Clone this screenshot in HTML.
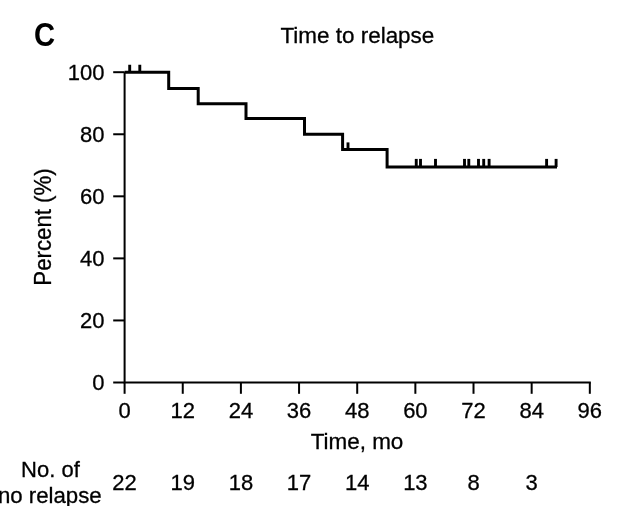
<!DOCTYPE html>
<html><head><meta charset="utf-8"><style>
html,body{margin:0;padding:0;background:#fff;}
svg{display:block;will-change:transform;}
text{font-family:"Liberation Sans",Arial,Helvetica,sans-serif;fill:#000;stroke:#000;stroke-width:0.3px;}
</style></head><body>
<svg width="631" height="506" viewBox="0 0 631 506">
<path d="M124.6,72.19999999999999 V382.5 H590.816" fill="none" stroke="#000" stroke-width="2" stroke-linejoin="miter"/>
<line x1="113.2" y1="382.50" x2="124.60" y2="382.50" stroke="#000" stroke-width="2"/>
<line x1="113.2" y1="320.44" x2="124.60" y2="320.44" stroke="#000" stroke-width="2"/>
<line x1="113.2" y1="258.38" x2="124.60" y2="258.38" stroke="#000" stroke-width="2"/>
<line x1="113.2" y1="196.32" x2="124.60" y2="196.32" stroke="#000" stroke-width="2"/>
<line x1="113.2" y1="134.26" x2="124.60" y2="134.26" stroke="#000" stroke-width="2"/>
<line x1="113.2" y1="72.20" x2="124.60" y2="72.20" stroke="#000" stroke-width="2"/>
<line x1="124.60" y1="382.50" x2="124.60" y2="393.8" stroke="#000" stroke-width="2"/>
<line x1="182.75" y1="382.50" x2="182.75" y2="393.8" stroke="#000" stroke-width="2"/>
<line x1="240.90" y1="382.50" x2="240.90" y2="393.8" stroke="#000" stroke-width="2"/>
<line x1="299.06" y1="382.50" x2="299.06" y2="393.8" stroke="#000" stroke-width="2"/>
<line x1="357.21" y1="382.50" x2="357.21" y2="393.8" stroke="#000" stroke-width="2"/>
<line x1="415.36" y1="382.50" x2="415.36" y2="393.8" stroke="#000" stroke-width="2"/>
<line x1="473.51" y1="382.50" x2="473.51" y2="393.8" stroke="#000" stroke-width="2"/>
<line x1="531.66" y1="382.50" x2="531.66" y2="393.8" stroke="#000" stroke-width="2"/>
<line x1="589.82" y1="382.50" x2="589.82" y2="393.8" stroke="#000" stroke-width="2"/>
<path d="M124.60,72.25 H168.7 V88.4 H198.2 V103.7 H246.0 V118.4 H304.5 V134.2 H342.6 V149.6 H387.1 V167.0 H557.0" fill="none" stroke="#000" stroke-width="3" stroke-linejoin="miter" stroke-linecap="butt"/>
<line x1="129.7" y1="64.75" x2="129.7" y2="72.25" stroke="#000" stroke-width="2.9"/>
<line x1="139.8" y1="64.75" x2="139.8" y2="72.25" stroke="#000" stroke-width="2.9"/>
<line x1="348.0" y1="142.4" x2="348.0" y2="149.6" stroke="#000" stroke-width="2.9"/>
<line x1="416.25" y1="158.9" x2="416.25" y2="167.0" stroke="#000" stroke-width="2.9"/>
<line x1="420.5" y1="158.9" x2="420.5" y2="167.0" stroke="#000" stroke-width="2.9"/>
<line x1="435.5" y1="158.9" x2="435.5" y2="167.0" stroke="#000" stroke-width="2.9"/>
<line x1="464.5" y1="158.9" x2="464.5" y2="167.0" stroke="#000" stroke-width="2.9"/>
<line x1="468.8" y1="158.9" x2="468.8" y2="167.0" stroke="#000" stroke-width="2.9"/>
<line x1="478.5" y1="158.9" x2="478.5" y2="167.0" stroke="#000" stroke-width="2.9"/>
<line x1="483.7" y1="158.9" x2="483.7" y2="167.0" stroke="#000" stroke-width="2.9"/>
<line x1="489.1" y1="158.9" x2="489.1" y2="167.0" stroke="#000" stroke-width="2.9"/>
<line x1="546.6" y1="158.9" x2="546.6" y2="167.0" stroke="#000" stroke-width="2.9"/>
<line x1="556.1" y1="158.9" x2="556.1" y2="167.0" stroke="#000" stroke-width="2.9"/>
<text transform="translate(104.50,389.80) scale(1.0,1)" text-anchor="end" font-size="22">0</text>
<text transform="translate(104.50,327.74) scale(1.0,1)" text-anchor="end" font-size="22">20</text>
<text transform="translate(104.50,265.68) scale(1.0,1)" text-anchor="end" font-size="22">40</text>
<text transform="translate(104.50,203.62) scale(1.0,1)" text-anchor="end" font-size="22">60</text>
<text transform="translate(104.50,141.56) scale(1.0,1)" text-anchor="end" font-size="22">80</text>
<text transform="translate(104.50,79.50) scale(1.0,1)" text-anchor="end" font-size="22">100</text>
<text transform="translate(124.60,417.60) scale(1.0,1)" text-anchor="middle" font-size="22">0</text>
<text transform="translate(182.75,417.60) scale(1.0,1)" text-anchor="middle" font-size="22">12</text>
<text transform="translate(240.90,417.60) scale(1.0,1)" text-anchor="middle" font-size="22">24</text>
<text transform="translate(299.06,417.60) scale(1.0,1)" text-anchor="middle" font-size="22">36</text>
<text transform="translate(357.21,417.60) scale(1.0,1)" text-anchor="middle" font-size="22">48</text>
<text transform="translate(415.36,417.60) scale(1.0,1)" text-anchor="middle" font-size="22">60</text>
<text transform="translate(473.51,417.60) scale(1.0,1)" text-anchor="middle" font-size="22">72</text>
<text transform="translate(531.66,417.60) scale(1.0,1)" text-anchor="middle" font-size="22">84</text>
<text transform="translate(589.82,417.60) scale(1.0,1)" text-anchor="middle" font-size="22">96</text>
<text transform="translate(124.60,489.60) scale(1.0,1)" text-anchor="middle" font-size="22">22</text>
<text transform="translate(182.75,489.60) scale(1.0,1)" text-anchor="middle" font-size="22">19</text>
<text transform="translate(240.90,489.60) scale(1.0,1)" text-anchor="middle" font-size="22">18</text>
<text transform="translate(299.06,489.60) scale(1.0,1)" text-anchor="middle" font-size="22">17</text>
<text transform="translate(357.21,489.60) scale(1.0,1)" text-anchor="middle" font-size="22">14</text>
<text transform="translate(415.36,489.60) scale(1.0,1)" text-anchor="middle" font-size="22">13</text>
<text transform="translate(473.51,489.60) scale(1.0,1)" text-anchor="middle" font-size="22">8</text>
<text transform="translate(531.66,489.60) scale(1.0,1)" text-anchor="middle" font-size="22">3</text>
<text transform="translate(357.40,42.90) scale(1.02,1)" text-anchor="middle" font-size="22">Time to relapse</text>
<text transform="translate(357.00,448.70) scale(1.02,1)" text-anchor="middle" font-size="22">Time, mo</text>
<text transform="translate(50.40,476.70) scale(1.0,1)" text-anchor="middle" font-size="22">No. of</text>
<text transform="translate(49.80,503.00) scale(1.01,1)" text-anchor="middle" font-size="22">no relapse</text>
<text transform="translate(51.3,227.0) rotate(-90) scale(0.967,1)" text-anchor="middle" font-size="23">Percent (%)</text>
<text transform="translate(44.6,46.0) scale(0.885,1)" text-anchor="middle" font-size="33" font-weight="bold" style="stroke:none">C</text>
</svg>
</body></html>
